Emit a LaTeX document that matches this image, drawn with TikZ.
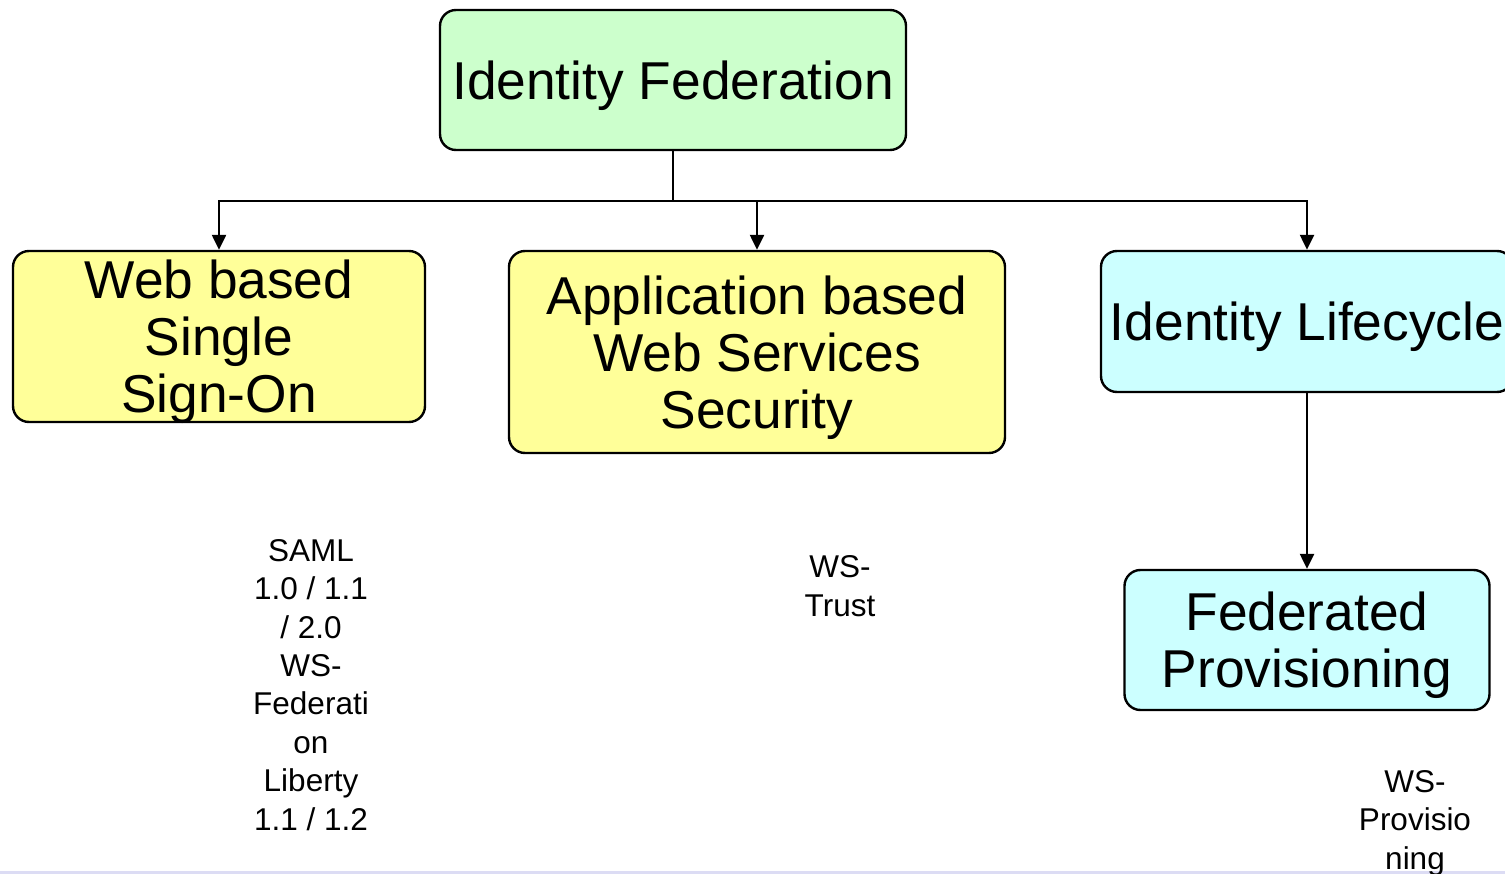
\documentclass[tikz,border=0pt]{standalone}
\usepackage{fontspec}
\setmainfont{Liberation Sans}
\usetikzlibrary{arrows.meta}
\definecolor{fedgreen}{HTML}{CCFFCC}
\definecolor{ssoyellow}{HTML}{FFFF99}
\definecolor{lifecyan}{HTML}{CCFFFF}
\definecolor{rulelav}{HTML}{DCDCF4}
\tikzset{
  topicbox/.style={draw=black, line width=2.4pt, rounded corners=16pt,
    align=center, inner sep=0pt, text depth=0pt,
    font=\fontsize{53.3}{57}\selectfont},
  speclabel/.style={align=center, inner sep=0pt, anchor=base,
    font=\fontsize{31.5}{38.4}\selectfont},
  link/.style={line width=2.4pt},
  arrowlink/.style={link, -{Triangle[width=14pt,length=15pt]}}
}
\begin{document}
\begin{tikzpicture}[x=1pt,y=-1pt]
  \useasboundingbox (0,0) rectangle (1505,874);
  % thin rule along the lower edge
  \fill[rulelav] (0,871) rectangle (1505,874);

  % main topic and its three branches
  \node[topicbox, fill=fedgreen, minimum width=466pt, minimum height=140pt]
    (fed) at (673,80) {Identity Federation};
  \node[topicbox, fill=ssoyellow, minimum width=412pt, minimum height=171pt]
    (web) at (219,336.5) {Web based\\Single\\Sign-On};
  \node[topicbox, fill=ssoyellow, minimum width=496pt, minimum height=202pt]
    (app) at (757,352) {Application based\\Web Services\\Security};
  \node[topicbox, fill=lifecyan, minimum width=412pt, minimum height=141pt]
    (life) at (1307,321.5) {Identity Lifecycle};
  \node[topicbox, fill=lifecyan, minimum width=365pt, minimum height=140pt]
    (prov) at (1307,640) {Federated\\Provisioning};

  % tree connectors
  \coordinate (split) at (673,201);
  \draw[link] (fed.south) -- (split);
  \draw[arrowlink] (split) -| (web.north);
  \draw[arrowlink] (split) -| (app.north);
  \draw[arrowlink] (split) -| (life.north);
  \draw[arrowlink] (life.south) -- (prov.north);

  % specifications under each topic (positioned by the last line's baseline)
  \node[speclabel] (saml) at (311,830)
    {SAML\\1.0 / 1.1\\/ 2.0\\WS-\\Federati\\on\\Liberty\\1.1 / 1.2};
  \node[speclabel] (trust) at (840,616) {WS-\\Trust};
  \node[speclabel] (wsprov) at (1415,869) {WS-\\Provisio\\ning};
\end{tikzpicture}
\end{document}
